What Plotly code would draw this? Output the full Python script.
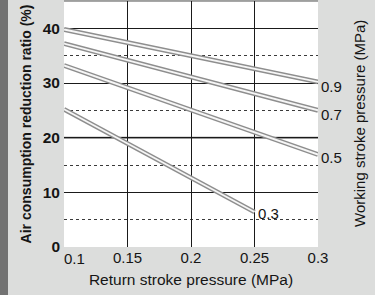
import plotly.graph_objects as go

# Data
series_names = ["0.9", "0.7", "0.5", "0.3"]
x_values = [[0.1, 0.3], [0.1, 0.3], [0.1, 0.3], [0.1, 0.25]]
y_values = [[39.8, 30.2], [37.2, 25.0], [33.2, 16.9], [25.2, 6.4]]
label_yshift = [-5, -4, -3, -1]

x_ticks = [0.1, 0.15, 0.2, 0.25, 0.3]
x_tick_labels = ["", "0.15", "0.2", "0.25", "0.3"]
first_x_label = "0.1"
y_ticks = [0, 10, 20, 30, 40]
y_tick_labels = ["0", "10", "20", "30", "40"]

FONT = "Liberation Sans, Arial, Helvetica, sans-serif"
TXT = "#151515"

fig = go.Figure()

for name, xs, ys in zip(series_names, x_values, y_values):
    fig.add_trace(go.Scatter(x=xs, y=ys, mode="lines",
                             line=dict(color="#8e8e8e", width=4.8),
                             hoverinfo="skip", showlegend=False))
    fig.add_trace(go.Scatter(x=xs, y=ys, mode="lines",
                             line=dict(color="#f6f6f6", width=1.9),
                             name=name, showlegend=False))

annotations = []
for name, xs, ys, ysh in zip(series_names, x_values, y_values, label_yshift):
    annotations.append(dict(x=xs[-1], y=ys[-1], xref="x", yref="y",
                            text=name, showarrow=False, xanchor="left",
                            yanchor="middle", xshift=1, yshift=ysh,
                            font=dict(family=FONT, size=15, color=TXT)))

annotations.append(dict(x=x_ticks[0], y=0, xref="x", yref="paper",
                        text=first_x_label, showarrow=False, xanchor="left",
                        yanchor="top", xshift=-2, yshift=-1,
                        font=dict(family=FONT, size=15, color=TXT)))

annotations.append(dict(x=1, y=0.5, xref="paper", yref="paper",
                        text="Working stroke pressure (MPa)", showarrow=False,
                        textangle=-90, xanchor="center", yanchor="middle",
                        xshift=41, font=dict(family=FONT, size=15, color=TXT)))

shapes = [
    # metal strip on the left
    dict(type="rect", xref="paper", yref="paper",
         x0=-64 / 254, x1=-56 / 254, y0=-48 / 246, y1=1 + 1 / 246,
         fillcolor="#727272", line=dict(width=0), layer="below"),
    # top border line
    dict(type="line", xref="paper", yref="paper", x0=0, x1=1, y0=1, y1=1,
         line=dict(color="#8a8a8a", width=1.5), layer="below"),
    # gray 20 gridline
    dict(type="line", xref="paper", yref="y", x0=0, x1=1,
         y0=y_ticks[2], y1=y_ticks[2],
         line=dict(color="#7a7a7a", width=2), layer="between"),
]

fig.update_layout(
    width=375, height=295,
    margin=dict(l=64, r=57, t=1, b=48),
    paper_bgcolor="#dcdddc",
    plot_bgcolor="#ffffff",
    font=dict(family=FONT, color=TXT),
    annotations=annotations,
    shapes=shapes,
    xaxis=dict(range=[0.1, 0.3], tickvals=x_ticks, ticktext=x_tick_labels,
               showgrid=True, gridcolor="#1a1a1a", gridwidth=1,
               zeroline=False, showline=False, ticks="",
               tickfont=dict(family=FONT, size=15, color=TXT),
               title=dict(text="Return stroke pressure (MPa)", standoff=9,
                          font=dict(family=FONT, size=15.5, color=TXT)),
               automargin=False, fixedrange=True),
    yaxis=dict(range=[0, 45], tickvals=y_ticks, ticktext=y_tick_labels,
               showgrid=True, gridcolor="#1a1a1a", gridwidth=1,
               zeroline=False, showline=False, ticks="",
               ticklabelstandoff=3,
               tickfont=dict(family=FONT, size=15.5, color=TXT, weight="bold"),
               minor=dict(dtick=5, tick0=0, showgrid=True, griddash="3px,3px",
                          gridcolor="#3a3a3a", gridwidth=1),
               title=dict(text="<b>Air consumption reduction ratio (%)</b>",
                          standoff=7,
                          font=dict(family=FONT, size=14, color=TXT)),
               automargin=False, fixedrange=True),
)

fig.write_html("out.html", config=dict(displayModeBar=False))

# remove default page margin so the figure sits at the window's top-left corner
with open("out.html", "r", encoding="utf-8") as f:
    html = f.read()
html = html.replace("<head>", "<head><style>html,body{margin:0;padding:0;overflow:hidden;}</style>", 1)
with open("out.html", "w", encoding="utf-8") as f:
    f.write(html)
